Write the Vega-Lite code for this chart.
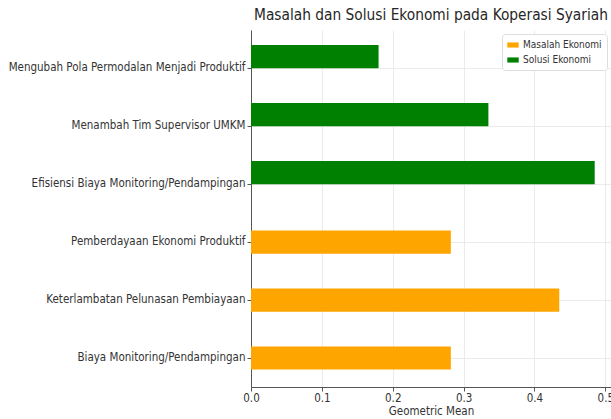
{
  "$schema": "https://vega.github.io/schema/vega-lite/v6.json",
  "autosize": {"type": "none"},
  "padding": {"left": 251, "top": 30, "right": 0, "bottom": 32},
  "width": 360,
  "height": 357,
  "background": "white",
  "title": {
    "text": "Masalah dan Solusi Ekonomi pada Koperasi Syariah",
    "font": "DejaVu Sans Condensed",
    "fontSize": 15.3,
    "fontWeight": "normal",
    "color": "#262626",
    "anchor": "middle",
    "offset": 7
  },
  "config": {
    "view": {"stroke": null},
    "font": "DejaVu Sans Condensed"
  },
  "data": {
    "values": [
      {"label": "Mengubah Pola Permodalan Menjadi Produktif", "jenis": "Solusi Ekonomi", "value": 0.180},
      {"label": "Menambah Tim Supervisor UMKM", "jenis": "Solusi Ekonomi", "value": 0.335},
      {"label": "Efisiensi Biaya Monitoring/Pendampingan", "jenis": "Solusi Ekonomi", "value": 0.485},
      {"label": "Pemberdayaan Ekonomi Produktif", "jenis": "Masalah Ekonomi", "value": 0.282},
      {"label": "Keterlambatan Pelunasan Pembiayaan", "jenis": "Masalah Ekonomi", "value": 0.435},
      {"label": "Biaya Monitoring/Pendampingan", "jenis": "Masalah Ekonomi", "value": 0.282}
    ]
  },
  "encoding": {
    "x": {
      "field": "value",
      "type": "quantitative",
      "scale": {"domain": [0, 0.508], "nice": false, "zero": true},
      "axis": {
        "title": "Geometric Mean",
        "titleFont": "DejaVu Sans Condensed",
        "titleFontSize": 11.5,
        "titleFontWeight": "normal",
        "titleColor": "#333333",
        "titlePadding": 2,
        "values": [0, 0.1, 0.2, 0.3, 0.4, 0.5],
        "format": ".1f",
        "labelFont": "DejaVu Sans Condensed",
        "labelFontSize": 11.5,
        "labelColor": "#333333",
        "labelFlush": false,
        "labelPadding": 1,
        "tickColor": "#555555",
        "tickSize": 4,
        "domainColor": "#555555",
        "grid": true,
        "gridColor": "#e6e6e6",
        "gridWidth": 0.8
      }
    },
    "x2": {"datum": 0},
    "color": {
      "field": "jenis",
      "type": "nominal",
      "scale": {"domain": ["Masalah Ekonomi", "Solusi Ekonomi"], "range": ["#FFA500", "#008000"]},
      "legend": {
        "title": null,
        "orient": "top-right",
        "offset": 4,
        "padding": 5,
        "fillColor": "white",
        "strokeColor": "#dddddd",
        "cornerRadius": 3,
        "symbolType": "M-1,-0.45H1V0.45H-1Z",
        "symbolSize": 130,
        "symbolStrokeWidth": 0,
        "labelFont": "DejaVu Sans Condensed",
        "labelFontSize": 10,
        "labelColor": "#333333",
        "rowPadding": 4
      }
    }
  },
  "layer": [
    {
      "transform": [{"filter": "datum.jenis === 'Masalah Ekonomi'"}],
      "mark": {"type": "bar"},
      "encoding": {
        "y": {
          "field": "label",
          "type": "nominal",
          "bandPosition": 0.3,
          "sort": null,
          "scale": {
            "domain": [
              "Mengubah Pola Permodalan Menjadi Produktif",
              "Menambah Tim Supervisor UMKM",
              "Efisiensi Biaya Monitoring/Pendampingan",
              "Pemberdayaan Ekonomi Produktif",
              "Keterlambatan Pelunasan Pembiayaan",
              "Biaya Monitoring/Pendampingan"
            ],
            "paddingInner": 0,
            "paddingOuter": 0.08,
            "align": 1
          },
          "axis": {
            "title": null,
            "labelFont": "DejaVu Sans Condensed",
            "labelFontSize": 11.5,
            "labelColor": "#333333",
            "labelPadding": 2,
            "labelLimit": 260,
            "tickColor": "#555555",
            "tickSize": 4,
            "tickBand": "center",
            "domainColor": "#555555",
            "grid": true,
            "gridColor": "#e6e6e6",
            "gridWidth": 0.8
          }
        },
        "y2": {"field": "label", "bandPosition": 0.7}
      }
    },
    {
      "transform": [{"filter": "datum.jenis === 'Solusi Ekonomi'"}],
      "mark": {"type": "bar"},
      "encoding": {
        "y": {"field": "label", "type": "nominal", "bandPosition": 0.1, "sort": null},
        "y2": {"field": "label", "bandPosition": 0.5}
      }
    }
  ]
}
